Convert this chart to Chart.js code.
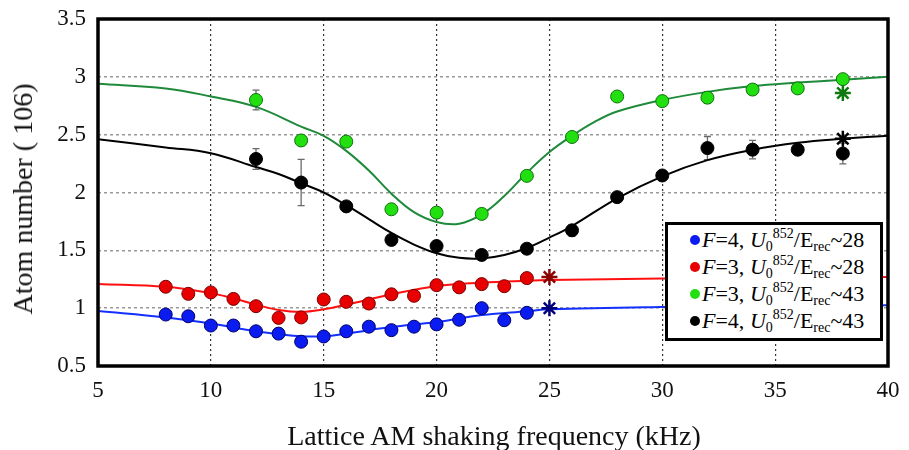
<!DOCTYPE html>
<html lang="en">
<head>
<meta charset="UTF-8" />
<title>Atom number vs lattice AM shaking frequency</title>
<script src="https://cdn.jsdelivr.net/npm/chart.js"></script>
<style>
  body { margin: 0; background: #fff; font-family: 'Liberation Serif', 'Times New Roman', serif; }
  #wrap { position: relative; width: 909px; height: 450px; }
  #yTitle {
    position: absolute; left: 23px; top: 199px;
    transform: translate(-50%, -50%) rotate(-90deg);
    font-size: 28px; white-space: nowrap; color: #111;
  }
  #xTitle {
    position: absolute; left: 494px; top: 436px;
    transform: translate(-50%, -50%);
    font-size: 28px; white-space: nowrap; color: #111;
  }
  #legend {
    position: absolute; left: 665px; top: 222px; width: 212px; height: 112px;
    border: 3px solid #000; background: #fff; padding: 1px 0 0 0;
  }
  .row { height: 27px; line-height: 27px; font-size: 22px; white-space: nowrap; position: relative; }
  .row .dot { position: absolute; left: 22px; top: 9px; width: 10px; height: 10px; border-radius: 50%; }
  .row span.t { position: absolute; left: 34px; top: 0; }
  .row sub, .row sup { font-size: 14px; vertical-align: baseline; position: relative; }
  .row sup { top: -9px; }
  .row sub { top: 4px; }
</style>
</head>
<body>
<div id="wrap">
  <canvas id="chart" width="909" height="450"></canvas>
  <div id="yTitle">Atom number ( 106)</div>
  <div id="xTitle">Lattice AM shaking frequency (kHz)</div>
  <div id="legend">
    <div class="row"><i class="dot" style="background:#0a1cf0"></i><span class="t"><i>F</i>=4, <i>U</i><sub>0</sub><sup>852</sup>/E<sub>rec</sub>~28</span></div>
    <div class="row"><i class="dot" style="background:#e80000"></i><span class="t"><i>F</i>=3, <i>U</i><sub>0</sub><sup>852</sup>/E<sub>rec</sub>~28</span></div>
    <div class="row"><i class="dot" style="background:#22e010"></i><span class="t"><i>F</i>=3, <i>U</i><sub>0</sub><sup>852</sup>/E<sub>rec</sub>~43</span></div>
    <div class="row"><i class="dot" style="background:#000"></i><span class="t"><i>F</i>=4, <i>U</i><sub>0</sub><sup>852</sup>/E<sub>rec</sub>~43</span></div>
  </div>
</div>
<script>
// measured points, U0/Erec ~ 28 (1 kHz steps)
const freqShallow = [8, 9, 10, 11, 12, 13, 14, 15, 16, 17, 18, 19, 20, 21, 22, 23, 24];
const blueAtoms = [0.945, 0.93, 0.85, 0.85, 0.80, 0.78, 0.71, 0.755, 0.80, 0.84, 0.81, 0.84, 0.86, 0.90, 1.0, 0.896, 0.96];
const redAtoms  = [1.185, 1.124, 1.136, 1.08, 1.017, 0.916, 0.92, 1.075, 1.055, 1.04, 1.12, 1.107, 1.199, 1.18, 1.208, 1.19, 1.26];

// measured points, U0/Erec ~ 43 (2 kHz steps)
const freqDeep = [12, 14, 16, 18, 20, 22, 24, 26, 28, 30, 32, 34, 36, 38];
const greenAtoms = [2.80, 2.45, 2.44, 1.855, 1.826, 1.815, 2.144, 2.48, 2.83, 2.79, 2.82, 2.89, 2.90, 2.98];
const greenErr   = [0.085, 0.045, 0.04, 0.02, 0.02, 0.04, 0.02, 0.02, 0.04, 0.02, 0.05, 0.02, 0.02, 0.03];
const blackAtoms = [2.29, 2.086, 1.88, 1.59, 1.537, 1.46, 1.514, 1.673, 1.96, 2.147, 2.384, 2.37, 2.37, 2.337];
const blackErr   = [0.09, 0.2, 0.02, 0.03, 0.03, 0.04, 0.02, 0.05, 0.03, 0.02, 0.1, 0.08, 0.02, 0.09];

// unshaken reference (asterisks)
const refFreq  = [25, 25, 38, 38];
const refAtoms = [1.0, 1.27, 2.86, 2.465];

// fitted curves
const blueFitX = [5, 8, 10, 12, 13, 14, 15, 16, 17, 18, 20, 22, 24, 25, 30, 35, 40];
const blueFitY = [0.975, 0.92, 0.868, 0.80, 0.775, 0.757, 0.757, 0.78, 0.81, 0.838, 0.88, 0.94, 0.974, 0.99, 1.01, 1.02, 1.026];
const redFitX = [5, 8, 10, 11, 12, 13, 14, 15, 16, 17, 18, 20, 22, 24, 25, 30, 35, 40];
const redFitY = [1.21, 1.185, 1.13, 1.085, 1.03, 0.985, 0.968, 0.99, 1.03, 1.075, 1.12, 1.19, 1.22, 1.237, 1.243, 1.257, 1.265, 1.27];
const greenFitX = [5, 8, 10, 12, 14, 15, 16, 17, 18, 19, 20, 21, 22, 23, 24, 25, 26, 27, 28, 30, 32, 34, 36, 38, 40];
const greenFitY = [2.94, 2.90, 2.83, 2.74, 2.57, 2.49, 2.36, 2.19, 1.99, 1.83, 1.745, 1.73, 1.81, 1.97, 2.17, 2.35, 2.49, 2.61, 2.70, 2.80, 2.87, 2.92, 2.95, 2.975, 3.0];
const blackFitX = [5, 8, 10, 12, 13, 14, 15, 16, 17, 18, 19, 20, 21, 22, 23, 24, 25, 26, 28, 30, 32, 34, 36, 38, 40];
const blackFitY = [2.46, 2.39, 2.34, 2.22, 2.16, 2.08, 2.0, 1.89, 1.77, 1.65, 1.55, 1.475, 1.435, 1.43, 1.46, 1.52, 1.61, 1.71, 1.95, 2.14, 2.28, 2.37, 2.43, 2.465, 2.49];

const pts = (xs, ys) => xs.map((x, i) => ({ x: x, y: ys[i] }));

function markers(xs, ys, fill, edge, err) {
  return {
    data: pts(xs, ys), errors: err || null,
    showLine: false, pointRadius: 6.5, pointBackgroundColor: fill,
    pointBorderColor: edge, pointBorderWidth: 1
  };
}
function fit(xs, ys, color) {
  return {
    data: pts(xs, ys), showLine: true, pointRadius: 0,
    borderColor: color, borderWidth: 2, tension: 0.4
  };
}

// error bars drawn under the markers
const errorBars = {
  id: 'errorBars',
  beforeDatasetsDraw(chart) {
    const { ctx, scales: { x, y } } = chart;
    ctx.save();
    ctx.strokeStyle = '#6a6a6a';
    ctx.lineWidth = 1.3;
    chart.data.datasets.forEach(ds => {
      if (!ds.errors) return;
      ds.data.forEach((p, i) => {
        const px = x.getPixelForValue(p.x);
        const top = y.getPixelForValue(p.y + ds.errors[i]);
        const bot = y.getPixelForValue(p.y - ds.errors[i]);
        ctx.beginPath();
        ctx.moveTo(px, top); ctx.lineTo(px, bot);
        ctx.moveTo(px - 3.5, top); ctx.lineTo(px + 3.5, top);
        ctx.moveTo(px - 3.5, bot); ctx.lineTo(px + 3.5, bot);
        ctx.stroke();
      });
    });
    ctx.restore();
  }
};

// heavy frame round the plot area
const frame = {
  id: 'frame',
  afterDraw(chart) {
    const a = chart.chartArea, ctx = chart.ctx;
    ctx.save();
    ctx.strokeStyle = '#000';
    ctx.lineWidth = 3.5;
    ctx.strokeRect(a.left, a.top, a.right - a.left, a.bottom - a.top);
    ctx.restore();
  }
};

const tickFont = { family: "'Liberation Serif', 'Times New Roman', serif", size: 23 };

new Chart(document.getElementById('chart'), {
  type: 'scatter',
  data: {
    datasets: [
      markers(freqShallow, blueAtoms, '#0a1cf0', '#00006a'),
      markers(freqShallow, redAtoms, '#e80000', '#7a0000'),
      markers(freqDeep, greenAtoms, '#22e010', '#107010', greenErr),
      markers(freqDeep, blackAtoms, '#000', '#000', blackErr),
      {
        data: pts(refFreq, refAtoms), showLine: false, pointStyle: 'star',
        pointRadius: 8, pointBorderWidth: 2.5,
        pointBorderColor: ['#00007a', '#8a0000', '#107a10', '#000']
      },
      fit(blueFitX, blueFitY, '#1430ff'),
      fit(redFitX, redFitY, '#ff1010'),
      fit(greenFitX, greenFitY, '#1e8a3a'),
      fit(blackFitX, blackFitY, '#000')
    ]
  },
  options: {
    responsive: false,
    animation: false,
    layout: { padding: { top: 19, right: 21, left: 0, bottom: 0 } },
    plugins: { legend: { display: false }, tooltip: { enabled: false } },
    scales: {
      x: {
        type: 'linear', min: 5, max: 40,
        ticks: { stepSize: 5, color: '#111', font: tickFont, padding: 11 },
        grid: { color: '#333', lineWidth: 1.2, drawTicks: false },
        border: { display: false, dash: [2, 3] },
        afterFit(s) { s.height = 84; s.paddingLeft = 0; s.paddingRight = 0; }
      },
      y: {
        min: 0.5, max: 3.5,
        ticks: {
          stepSize: 0.5, color: '#111', font: tickFont, padding: 12,
          callback: v => String(v)
        },
        grid: { color: '#999', lineWidth: 1.5, drawTicks: false },
        border: { display: false, dash: [3, 3] },
        afterFit(s) { s.width = 98; s.paddingTop = 0; s.paddingBottom = 0; }
      }
    }
  },
  plugins: [errorBars, frame]
});
</script>
</body>
</html>
